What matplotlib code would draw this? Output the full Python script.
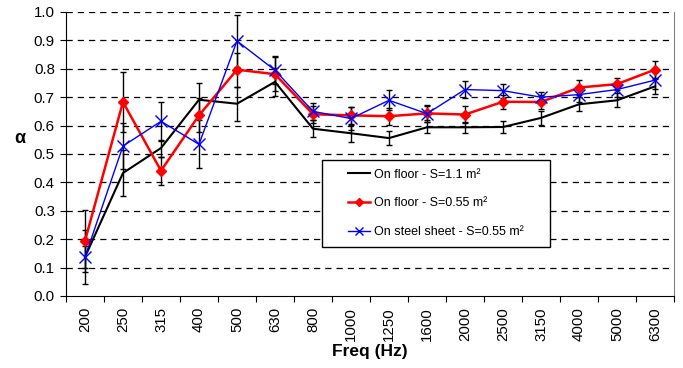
import matplotlib
matplotlib.use("Agg")
import matplotlib.pyplot as plt
from matplotlib.patches import Rectangle
import numpy as np

plt.rcParams['font.family'] = ['Liberation Sans', 'DejaVu Sans']

freqs = ["200", "250", "315", "400", "500", "630", "800", "1000", "1250",
         "1600", "2000", "2500", "3150", "4000", "5000", "6300"]

floor_11 = [0.137, 0.433, 0.521, 0.691, 0.677, 0.754, 0.589, 0.573, 0.556,
            0.594, 0.594, 0.595, 0.627, 0.675, 0.689, 0.738]
floor_11_err = [0.04, 0.08, 0.03, 0.06, 0.06, 0.05, 0.03, 0.03, 0.025,
                0.02, 0.02, 0.02, 0.025, 0.025, 0.025, 0.025]

floor_055 = [0.194, 0.683, 0.441, 0.636, 0.797, 0.781, 0.640, 0.636, 0.633,
             0.643, 0.639, 0.684, 0.683, 0.734, 0.746, 0.797]
floor_055_err = [0.11, 0.106, 0.05, 0.06, 0.06, 0.06, 0.03, 0.03, 0.03,
                 0.025, 0.03, 0.025, 0.025, 0.025, 0.02, 0.03]

steel_055 = [0.137, 0.528, 0.615, 0.534, 0.898, 0.795, 0.650, 0.625, 0.689,
             0.642, 0.727, 0.723, 0.700, 0.709, 0.727, 0.760]
steel_055_err = [0.095, 0.08, 0.068, 0.085, 0.09, 0.05, 0.03, 0.04, 0.035,
                 0.03, 0.03, 0.025, 0.02, 0.025, 0.025, 0.03]

fig = plt.figure(figsize=(6.83, 3.68), dpi=100)
ax = fig.add_axes([0.0966, 0.1957, 0.8902, 0.7717])

x = np.arange(len(freqs))

# grid
for yv in np.arange(0.1, 1.01, 0.1):
    ax.axhline(yv, color='black', lw=0.9, ls=(0, (5, 4)), zorder=0)

ebkw = dict(ecolor='black', elinewidth=1.0, capsize=2.5, capthick=1.0)
ax.errorbar(x, floor_11, yerr=floor_11_err, fmt='none', zorder=2, **ebkw)
ax.errorbar(x, floor_055, yerr=floor_055_err, fmt='none', zorder=2, **ebkw)
ax.errorbar(x, steel_055, yerr=steel_055_err, fmt='none', zorder=2, **ebkw)

ax.plot(x, floor_11, color='black', lw=1.5, label='On floor - S=1.1 m²', zorder=3)
ax.plot(x, floor_055, color='#ff0000', lw=1.8, marker='D', ms=5,
        label='On floor - S=0.55 m²', zorder=4)
ax.plot(x, steel_055, color='#0000ff', lw=1.0, marker='x', ms=8, mew=1.0,
        label='On steel sheet - S=0.55 m²', zorder=5)

ax.set_xlim(-0.5, len(freqs) - 0.5)
ax.set_ylim(0, 1.0)
ax.set_yticks(np.arange(0, 1.01, 0.1))
ax.set_yticklabels([f"{v:.1f}" for v in np.arange(0, 1.01, 0.1)], fontsize=10.8)

ax.set_xticks(np.arange(-0.5, len(freqs), 1.0))
ax.set_xticklabels([])
ax.set_xticks(x, minor=True)
ax.set_xticklabels(freqs, minor=True, rotation=90, fontsize=10.8)
ax.tick_params(axis='x', which='major', length=4, direction='out')
ax.tick_params(axis='x', which='minor', length=0, pad=8)
ax.tick_params(axis='y', length=4, direction='out', pad=4)

ax.spines['top'].set_visible(False)
ax.spines['right'].set_color('#808080')
ax.spines['left'].set_color('black')
ax.spines['bottom'].set_color('black')

ax.set_xlabel('Freq (Hz)', fontsize=12.5, fontweight='bold', labelpad=2)
ax.set_ylabel('α', fontsize=13, fontweight='bold', rotation=0, va='center', ha='center')
ax.yaxis.set_label_coords(-0.076, 0.553)

# legend frame drawn as a box, legend entries without frame
box = Rectangle((0.421, 0.1725), 0.375, 0.3065, transform=ax.transAxes,
                facecolor='white', edgecolor='black', lw=1.0, zorder=9)
ax.add_patch(box)
leg = ax.legend(loc='center left', bbox_to_anchor=(0.4638, 0.326), fontsize=9,
                frameon=False, handlelength=1.8, labelspacing=1.33, borderpad=0,
                handletextpad=0.25, borderaxespad=0, markerscale=0.8)
leg.set_zorder(10)

fig.savefig('out.png', dpi=100)
